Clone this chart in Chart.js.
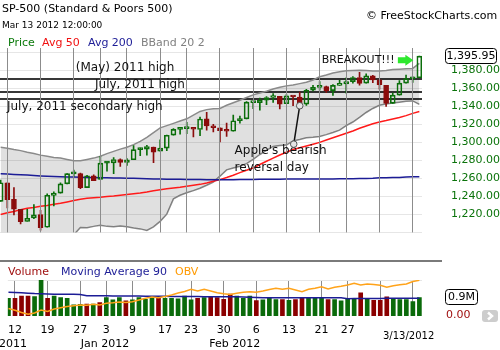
<!DOCTYPE html>
<html>
<head>
<meta charset="utf-8">
<title>SP-500 daily</title>
<script src="https://cdn.jsdelivr.net/npm/chart.js@4.4.1/dist/chart.umd.min.js"></script>
<style>
  html, body { margin: 0; padding: 0; background: #fff; }
  body { position: relative; width: 500px; height: 350px; overflow: hidden; font-family: 'DejaVu Sans', Verdana, sans-serif; }
  canvas { position: absolute; left: 0; }
  .txt { position: absolute; white-space: nowrap; font-size: 11px; line-height: 14px; color: #000; }
  .sep { position: absolute; left: 0; top: 260px; width: 442px; height: 2px; background: #7a7a7a; }
</style>
</head>
<body>
<canvas id="priceChart" width="500" height="262" style="top:0"></canvas>
<canvas id="volumeChart" width="500" height="95" style="top:255px"></canvas>
<div class="sep"></div>

<div class="txt" style="left:2px;top:2px">SP-500 (Standard &amp; Poors 500)</div>
<div class="txt" style="left:2px;top:18px;font-size:9px">Mar 13 2012 12:00:00</div>
<div class="txt" style="left:366px;top:9px">&copy; FreeStockCharts.com</div>
<div class="txt" style="left:8px;top:36px;color:#0a7a0a">Price</div>
<div class="txt" style="left:42px;top:36px;color:#f01010">Avg 50</div>
<div class="txt" style="left:88px;top:36px;color:#1c1c96">Avg 200</div>
<div class="txt" style="left:141px;top:36px;color:#808080">BBand 20 2</div>

<div class="txt" style="left:8px;top:265px;color:#a01010">Volume</div>
<div class="txt" style="left:61px;top:265px;color:#1c1c96">Moving Average 90</div>
<div class="txt" style="left:175px;top:265px;color:#ff9a00">OBV</div>
<div class="txt" style="left:383px;top:329px;font-size:10px">3/13/2012</div>

<script>
// Trading days shown on the chart (first one is partly cut off at the left edge)
const dates = [
  '2011-12-09', '2011-12-12', '2011-12-13', '2011-12-14', '2011-12-15', '2011-12-16', '2011-12-19', '2011-12-20',
  '2011-12-21', '2011-12-22', '2011-12-23', '2011-12-27', '2011-12-28', '2011-12-29', '2011-12-30',
  '2012-01-03', '2012-01-04', '2012-01-05', '2012-01-06', '2012-01-09', '2012-01-10', '2012-01-11', '2012-01-12',
  '2012-01-13', '2012-01-17', '2012-01-18', '2012-01-19', '2012-01-20', '2012-01-23', '2012-01-24', '2012-01-25',
  '2012-01-26', '2012-01-27', '2012-01-30', '2012-01-31',
  '2012-02-01', '2012-02-02', '2012-02-03', '2012-02-06', '2012-02-07', '2012-02-08', '2012-02-09', '2012-02-10',
  '2012-02-13', '2012-02-14', '2012-02-15', '2012-02-16', '2012-02-17', '2012-02-21', '2012-02-22', '2012-02-23',
  '2012-02-24', '2012-02-27', '2012-02-28', '2012-02-29',
  '2012-03-01', '2012-03-02', '2012-03-05', '2012-03-06', '2012-03-07', '2012-03-08', '2012-03-09', '2012-03-12',
  '2012-03-13'
];

const open = [
  1234.48, 1255.05, 1236.83, 1225.73, 1212.12, 1216.09, 1219.74, 1205.72, 1241.25, 1243.72, 1254.00, 1265.02, 1265.38, 1249.75, 1262.82,
  1258.86, 1277.03, 1277.30, 1280.93, 1277.83, 1280.77, 1292.02, 1292.48, 1294.82, 1290.22, 1293.65, 1308.07, 1314.49, 1315.29, 1315.96,
  1314.40, 1326.28, 1318.25, 1316.16, 1313.53,
  1312.45, 1324.24, 1326.21, 1344.32, 1344.33, 1347.04, 1349.97, 1351.21, 1343.06, 1351.30, 1350.52, 1342.61, 1358.06, 1361.22, 1362.11,
  1357.53, 1363.46, 1365.20, 1367.56, 1372.20,
  1365.90, 1374.09, 1369.59, 1363.63, 1343.39, 1352.65, 1365.97, 1370.78, 1371.92
];
const high = [
  1258.25, 1255.05, 1249.86, 1225.73, 1225.60, 1231.04, 1224.57, 1242.82, 1245.09, 1255.22, 1265.42, 1269.37, 1265.85, 1263.54, 1264.12,
  1284.62, 1278.73, 1283.05, 1281.84, 1281.99, 1296.46, 1293.80, 1296.82, 1294.82, 1303.00, 1308.11, 1315.49, 1315.38, 1322.28, 1315.96,
  1328.30, 1333.47, 1320.06, 1316.16, 1321.41,
  1330.52, 1329.19, 1345.34, 1344.36, 1349.24, 1351.00, 1354.32, 1351.21, 1353.35, 1351.30, 1355.87, 1359.02, 1363.40, 1367.76, 1362.70,
  1364.24, 1368.92, 1371.94, 1373.09, 1378.04,
  1376.17, 1374.53, 1369.59, 1363.63, 1354.85, 1368.72, 1374.76, 1373.04, 1396.13
];
const low = [
  1234.48, 1227.25, 1219.43, 1209.47, 1212.12, 1215.20, 1202.37, 1205.72, 1229.51, 1243.72, 1254.00, 1262.30, 1248.64, 1249.75, 1257.46,
  1258.86, 1268.10, 1265.26, 1273.34, 1274.55, 1280.77, 1285.41, 1285.77, 1277.58, 1290.22, 1290.99, 1308.07, 1309.17, 1309.89, 1306.06,
  1307.65, 1313.60, 1311.72, 1300.49, 1306.69,
  1312.45, 1321.57, 1326.21, 1337.52, 1335.92, 1341.95, 1344.63, 1337.35, 1343.06, 1340.83, 1340.80, 1341.22, 1357.24, 1358.11, 1355.53,
  1352.28, 1363.46, 1354.92, 1365.97, 1363.81,
  1365.90, 1366.42, 1359.13, 1340.03, 1343.39, 1352.65, 1365.91, 1366.69, 1371.92
];
const close = [
  1255.19, 1236.47, 1225.73, 1211.82, 1215.75, 1219.66, 1205.35, 1241.30, 1243.72, 1254.00, 1265.33, 1265.43, 1249.64, 1263.02, 1257.60,
  1277.06, 1277.30, 1281.06, 1277.81, 1280.70, 1292.08, 1292.48, 1295.50, 1289.09, 1293.67, 1308.04, 1314.50, 1315.38, 1316.00, 1314.65,
  1326.06, 1318.43, 1316.33, 1313.01, 1312.41,
  1324.09, 1325.54, 1344.90, 1344.33, 1347.05, 1349.96, 1351.95, 1342.64, 1351.77, 1350.50, 1343.23, 1358.04, 1361.23, 1362.21, 1357.66,
  1363.46, 1365.74, 1367.59, 1372.18, 1365.68,
  1374.09, 1369.63, 1364.33, 1343.36, 1352.63, 1365.91, 1370.87, 1371.09, 1395.95
];
const priorClose = 1234.35;

// Overlays on the price panel
const ma50 = [
  1219.8, 1221.8, 1223.3, 1225.3, 1226.8, 1227.8, 1229.1, 1230.0, 1231.3, 1232.4,
  1233.9, 1235.4, 1236.9, 1237.9, 1238.6, 1239.1, 1239.9, 1240.4, 1241.4, 1242.1,
  1242.9, 1243.7, 1244.9, 1246.4, 1247.4, 1248.4, 1249.4, 1250.1, 1251.4, 1252.4,
  1253.4, 1254.9, 1256.9, 1258.7, 1261.0, 1263.5, 1266.5, 1269.0, 1271.5, 1275.5,
  1279.1, 1282.6, 1286.1, 1289.1, 1292.1, 1294.1, 1296.1, 1298.1, 1300.1, 1302.7,
  1305.2, 1307.7, 1310.2, 1312.7, 1315.7, 1318.2, 1320.7, 1322.7, 1324.3, 1326.1,
  1327.8, 1329.8, 1332.3, 1334.5
];
const ma200 = [
  1265.1, 1264.9, 1264.5, 1264.2, 1263.7, 1263.2, 1262.8, 1262.5, 1262.2, 1261.9,
  1261.7, 1261.5, 1261.3, 1261.1, 1261.0, 1260.8, 1260.7, 1260.5, 1260.4, 1260.3,
  1260.1, 1259.9, 1259.7, 1259.5, 1259.4, 1259.2, 1259.1, 1259.0, 1258.9, 1258.8,
  1258.7, 1258.6, 1258.5, 1258.5, 1258.5, 1258.6, 1258.7, 1258.8, 1258.9, 1259.0,
  1259.0, 1259.1, 1259.2, 1259.3, 1259.5, 1259.5, 1259.4, 1259.3, 1259.3, 1259.4,
  1259.5, 1259.6, 1259.7, 1259.7, 1259.8, 1259.9, 1260.2, 1260.7, 1260.8, 1260.9,
  1261.0, 1261.5, 1261.8, 1261.9
];
const bbUpper = [
  1294.6, 1293.6, 1292.1, 1290.9, 1289.1, 1287.6, 1285.9, 1284.6, 1283.3, 1282.6,
  1281.1, 1279.6, 1279.6, 1281.1, 1282.6, 1284.6, 1287.6, 1290.1, 1292.6, 1294.6,
  1297.6, 1301.2, 1305.7, 1311.0, 1316.2, 1318.7, 1321.2, 1323.8, 1326.3, 1330.3,
  1334.5, 1336.5, 1337.5, 1337.8, 1341.3, 1344.1, 1346.9, 1349.9, 1352.9, 1354.9,
  1356.9, 1359.4, 1361.4, 1362.9, 1363.9, 1365.4, 1366.9, 1369.5, 1373.0, 1375.0,
  1377.3, 1378.5, 1379.7, 1380.0, 1380.3, 1380.0, 1379.5, 1379.5, 1380.0, 1381.0,
  1381.5, 1382.0, 1382.3, 1388.0
];
const bbLower = [
  1186.0, 1187.0, 1188.0, 1189.0, 1190.0, 1191.0, 1192.0, 1192.5, 1193.0, 1194.0,
  1195.0, 1197.3, 1205.5, 1205.2, 1206.7, 1207.9, 1206.7, 1206.2, 1207.2, 1206.2,
  1204.9, 1203.9, 1202.2, 1206.2, 1212.3, 1220.3, 1237.3, 1241.3, 1244.0, 1246.4,
  1249.1, 1252.4, 1255.9, 1262.5, 1269.5, 1271.5, 1273.5, 1276.5, 1281.1, 1286.6,
  1291.1, 1295.6, 1296.6, 1297.1, 1301.7, 1303.2, 1305.2, 1305.7, 1306.7, 1308.7,
  1311.0, 1313.7, 1318.7, 1322.7, 1327.8, 1333.3, 1337.8, 1341.3, 1342.8, 1343.8,
  1344.8, 1345.8, 1346.2, 1342.3
];

// Lower panel, volume in millions as the platform reports it
const volume = [
  0.86, 0.86, 0.97, 0.97, 0.94, 1.75, 0.86, 0.97, 0.89, 0.86,
  0.54, 0.57, 0.58, 0.58, 0.65, 0.89, 0.78, 0.89, 0.74, 0.78,
  0.89, 0.81, 0.86, 0.89, 0.86, 0.86, 0.83, 0.97, 0.78, 0.86,
  0.89, 0.91, 0.89, 0.81, 1.07, 0.97, 0.86, 0.97, 0.75, 0.78,
  0.86, 0.80, 0.80, 0.76, 0.80, 0.86, 0.86, 0.86, 0.90, 0.80,
  0.80, 0.74, 0.82, 0.86, 1.13, 0.86, 0.76, 0.76, 0.93, 0.84,
  0.80, 0.80, 0.70, 0.90
];
const volMa90 = [
  1.15, 1.14, 1.13, 1.11, 1.09, 1.08, 1.07, 1.06, 1.06, 1.06,
  1.06, 1.05, 0.99, 0.98, 0.98, 0.98, 0.97, 0.97, 0.97, 0.97,
  0.97, 0.96, 0.96, 0.96, 0.96, 0.95, 0.95, 0.95, 0.95, 0.95,
  0.94, 0.94, 0.94, 0.94, 0.94, 0.93, 0.92, 0.91, 0.90, 0.89,
  0.89, 0.89, 0.89, 0.89, 0.89, 0.89, 0.89, 0.89, 0.89, 0.89,
  0.89, 0.89, 0.84, 0.85, 0.85, 0.85, 0.85, 0.85, 0.86, 0.86,
  0.86, 0.86, 0.86, 0.86
];
const obv = [
  3.05, 2.16, 0.95, 0.00, 0.68, 2.26, 1.47, 2.79, 3.47, 4.10,
  4.53, 4.89, 4.74, 5.26, 4.89, 5.79, 6.05, 6.47, 6.26, 6.63,
  7.53, 8.42, 9.10, 8.68, 9.37, 10.16, 11.21, 12.00, 13.16, 12.26,
  13.16, 12.26, 11.37, 10.79, 10.42, 11.05, 11.58, 11.89, 11.58, 12.26,
  13.05, 13.68, 13.16, 13.68, 12.79, 11.89, 13.16, 13.68, 14.53, 13.32,
  14.21, 14.74, 15.42, 16.32, 15.42, 15.95, 15.68, 15.26, 14.21, 15.05,
  15.53, 15.95, 17.26, 17.89
];

// Horizontal levels and their captions
const levels = [1370.58, 1356.48, 1348.0];
const priceTicks = [1200, 1220, 1240, 1260, 1280, 1300, 1320, 1340, 1360, 1380, 1400];
const monthTicks = [[-1.2, 'Dec 2011'], [14.8, 'Jan 2012'], [34.7, 'Feb 2012']];
const notes = [
  { text: '(May) 2011 high', at: 11.3, value: 1383.0 },
  { text: 'July, 2011 high', at: 14.2, value: 1363.9 },
  { text: 'July, 2011 secondary high', at: 0.95, value: 1340.1 },
  { text: "Apple's bearish", at: 35.2, value: 1290.3 },
  { text: 'reversal day', at: 35.2, value: 1271.8 }
];
const appleDay = '2012-02-15';
const appleLabelAnchor = { at: 44.1, value: 1298.1 };
const breakout = { text: 'BREAKOUT!!!', at: 48.3, value: 1391.3, arrowTip: 62.1 };

const X_MIN = -0.1, X_MAX = 63.4;
const GREEN = '#0b6e0b', RED = '#8b0c0c';
const WEEK_LINE = '#8c8c8c';

Chart.defaults.font.family = "'DejaVu Sans', Verdana, sans-serif";
Chart.defaults.font.size = 11;

const n = dates.length;
const day = s => new Date(s + 'T00:00:00Z');
const pts = arr => arr.map((v, i) => ({ x: i, y: v }));
const money = v => v.toLocaleString('en-US', { minimumFractionDigits: 2, maximumFractionDigits: 2 });

// first trading day of every week gets a grid line
const weekStarts = dates.map((d, i) => i).filter(i => i > 0 && day(dates[i]).getUTCDay() < day(dates[i - 1]).getUTCDay());

const candleUp = close.map((c, i) => c >= open[i]);
const candleColor = candleUp.map(up => up ? GREEN : RED);
const volColor = close.map((c, i) => c >= (i ? close[i - 1] : priorClose) ? '#0a6a0a' : '#8b0000');

function roundRect(ctx, x, y, w, h, r) {
  ctx.beginPath();
  ctx.moveTo(x + r, y);
  ctx.arcTo(x + w, y, x + w, y + h, r);
  ctx.arcTo(x + w, y + h, x, y + h, r);
  ctx.arcTo(x, y + h, x, y, r);
  ctx.arcTo(x, y, x + w, y, r);
  ctx.closePath();
}

function weekGrid(scale) {
  scale.ticks = weekStarts.map(v => ({ value: v }));
}

// Levels under the candles; week lines, captions, callout and last-price box on top
const priceNotes = {
  id: 'priceNotes',
  beforeDatasetsDraw(chart) {
    const { ctx, chartArea: a, scales: { y } } = chart;
    ctx.save();
    ctx.strokeStyle = '#383838';
    ctx.lineWidth = 2;
    levels.forEach(v => {
      const py = Math.round(y.getPixelForValue(v));
      ctx.beginPath();
      ctx.moveTo(a.left, py);
      ctx.lineTo(a.right, py);
      ctx.stroke();
    });
    ctx.restore();
  },
  afterDraw(chart) {
    const { ctx, chartArea: a, scales: { x, y } } = chart;
    ctx.save();
    ctx.fillStyle = WEEK_LINE;
    for (const i of weekStarts) {
      ctx.fillRect(Math.floor(x.getPixelForValue(i)), a.top, 1, a.height);
    }

    ctx.fillStyle = '#111';
    ctx.textBaseline = 'middle';
    ctx.textAlign = 'left';
    ctx.font = "12px 'DejaVu Sans'";
    notes.forEach(nt => ctx.fillText(nt.text, x.getPixelForValue(nt.at), y.getPixelForValue(nt.value)));

    // callout from the Feb 15 low down to the caption
    const ai = dates.indexOf(appleDay);
    const p1 = { x: x.getPixelForValue(ai), y: y.getPixelForValue(low[ai]) };
    const p2 = { x: x.getPixelForValue(appleLabelAnchor.at), y: y.getPixelForValue(appleLabelAnchor.value) };
    ctx.strokeStyle = '#111';
    ctx.lineWidth = 1.5;
    ctx.beginPath();
    ctx.moveTo(p1.x, p1.y);
    ctx.lineTo(p2.x, p2.y);
    ctx.stroke();
    [p1, p2].forEach(p => {
      ctx.beginPath();
      ctx.arc(p.x, p.y, 3.3, 0, Math.PI * 2);
      ctx.fillStyle = '#e4e4e4';
      ctx.fill();
      ctx.strokeStyle = '#555';
      ctx.lineWidth = 1;
      ctx.stroke();
    });

    // breakout caption with arrow
    const by = y.getPixelForValue(breakout.value);
    ctx.fillStyle = '#111';
    ctx.font = "11px 'DejaVu Sans'";
    ctx.fillText(breakout.text, x.getPixelForValue(breakout.at), by);
    const tip = x.getPixelForValue(breakout.arrowTip);
    ctx.fillStyle = '#2ee82e';
    ctx.beginPath();
    ctx.moveTo(tip - 15.5, by - 3);
    ctx.lineTo(tip - 8, by - 3);
    ctx.lineTo(tip - 8, by - 5.5);
    ctx.lineTo(tip, by);
    ctx.lineTo(tip - 8, by + 5.5);
    ctx.lineTo(tip - 8, by + 3);
    ctx.lineTo(tip - 15.5, by + 3);
    ctx.closePath();
    ctx.fill();

    // boxed last close on the price axis
    const last = close[n - 1];
    const py = Math.round(y.getPixelForValue(last));
    roundRect(ctx, 445.5, py - 7.5, 51, 15, 3);
    ctx.fillStyle = '#fff';
    ctx.fill();
    ctx.strokeStyle = '#000';
    ctx.lineWidth = 1;
    ctx.stroke();
    ctx.fillStyle = '#000';
    ctx.textAlign = 'center';
    ctx.fillText(money(last), 471, py + 0.5);
    ctx.restore();
  }
};

new Chart(document.getElementById('priceChart'), {
  type: 'bar',
  data: {
    datasets: [
      {
        type: 'line', label: 'BBand upper', data: pts(bbUpper),
        borderColor: '#8a8a8a', borderWidth: 1.5, pointRadius: 0,
        fill: '+1', backgroundColor: 'rgba(0, 0, 0, 0.12)', order: 10
      },
      {
        type: 'line', label: 'BBand lower', data: pts(bbLower),
        borderColor: '#8a8a8a', borderWidth: 1.5, pointRadius: 0, fill: false, order: 10
      },
      {
        type: 'line', label: 'Avg 200', data: pts(ma200),
        borderColor: '#1c1c96', borderWidth: 1.5, pointRadius: 0, order: 6
      },
      {
        type: 'line', label: 'Avg 50', data: pts(ma50),
        borderColor: '#ff1a1a', borderWidth: 1.5, pointRadius: 0, order: 6
      },
      {
        label: 'Lower wick', data: dates.map((d, i) => ({ x: i, y: [low[i], Math.min(open[i], close[i])] })),
        backgroundColor: candleColor, barThickness: 1, grouped: false, order: 3
      },
      {
        label: 'Upper wick', data: dates.map((d, i) => ({ x: i, y: [Math.max(open[i], close[i]), high[i]] })),
        backgroundColor: candleColor, barThickness: 1, grouped: false, order: 3
      },
      {
        label: 'Price', data: dates.map((d, i) => ({ x: i, y: [open[i], close[i]] })),
        backgroundColor: candleUp.map(up => up ? 'rgba(0, 0, 0, 0)' : RED),
        borderColor: candleColor, borderWidth: 1, borderSkipped: false,
        barThickness: 5, minBarLength: 2, grouped: false, order: 1
      }
    ]
  },
  options: {
    responsive: false,
    animation: false,
    devicePixelRatio: 1,
    layout: { padding: { top: 48, right: 0, bottom: 10, left: 0 } },
    plugins: { legend: { display: false }, tooltip: { enabled: false } },
    scales: {
      x: {
        type: 'linear', min: X_MIN, max: X_MAX, offset: false,
        // dates are printed under the volume panel only; week lines come from priceNotes
        ticks: { display: false },
        grid: { display: false },
        border: { display: false }
      },
      y: {
        position: 'right', min: 1200, max: 1405,
        afterBuildTicks: s => { s.ticks = priceTicks.map(v => ({ value: v })); },
        afterFit: s => { s.width = 78; },
        ticks: {
          color: '#0b730b', padding: 23, crossAlign: 'far',
          callback: v => (v === priceTicks[0] || v === priceTicks[priceTicks.length - 1]) ? '' : money(v)
        },
        grid: { color: '#e6e6e6', drawTicks: false },
        border: { display: false }
      }
    }
  },
  plugins: [priceNotes]
});

// Month captions, current volume box and the scroll button
const volumeNotes = {
  id: 'volumeNotes',
  afterDraw(chart) {
    const { ctx, scales: { x, y } } = chart;
    ctx.save();
    ctx.fillStyle = '#000';
    ctx.font = "11px 'DejaVu Sans'";
    ctx.textAlign = 'center';
    ctx.textBaseline = 'middle';
    monthTicks.forEach(([at, label]) => ctx.fillText(label, x.getPixelForValue(at), 89.5));

    const vy = Math.round(y.getPixelForValue(volume[n - 1]));
    roundRect(ctx, 445.5, vy - 7.5, 32, 15, 3);
    ctx.fillStyle = '#fff';
    ctx.fill();
    ctx.strokeStyle = '#000';
    ctx.lineWidth = 1;
    ctx.stroke();
    ctx.fillStyle = '#000';
    ctx.fillText(volume[n - 1].toFixed(1) + 'M', 461.5, vy + 0.5);

    ctx.textAlign = 'left';
    ctx.fillStyle = '#a01010';
    ctx.fillText('0.00', 446, y.getPixelForValue(0) - 1);

    roundRect(ctx, 482, 55, 16, 12, 3);
    ctx.fillStyle = '#cdcdcd';
    ctx.fill();
    ctx.strokeStyle = '#fff';
    ctx.lineWidth = 2.5;
    ctx.beginPath();
    ctx.moveTo(488, 57.5);
    ctx.lineTo(492, 61);
    ctx.lineTo(488, 64.5);
    ctx.stroke();
    ctx.restore();
  }
};

new Chart(document.getElementById('volumeChart'), {
  type: 'bar',
  data: {
    datasets: [
      {
        label: 'Volume', data: pts(volume), backgroundColor: volColor,
        barThickness: 4, grouped: false, order: 3, yAxisID: 'y'
      },
      {
        type: 'line', label: 'Moving Average 90', data: pts(volMa90),
        borderColor: '#1c1c96', borderWidth: 1.5, pointRadius: 0, order: 2, yAxisID: 'y'
      },
      {
        type: 'line', label: 'OBV', data: pts(obv),
        borderColor: '#ffa31a', borderWidth: 1.5, pointRadius: 0, order: 1, yAxisID: 'obv'
      }
    ]
  },
  options: {
    responsive: false,
    animation: false,
    devicePixelRatio: 1,
    layout: { padding: { top: 25, right: 0, bottom: 0, left: 0 } },
    plugins: { legend: { display: false }, tooltip: { enabled: false } },
    scales: {
      x: {
        type: 'linear', min: X_MIN, max: X_MAX, offset: false,
        afterBuildTicks: weekGrid,
        afterFit: s => { s.height = 34; },
        ticks: {
          color: '#000', padding: 8, maxRotation: 0, autoSkip: false,
          // the cursor date covers March, so those days stay unlabelled
          callback: v => {
            const dt = day(dates[v]);
            return dt.getUTCMonth() === 2 ? '' : String(dt.getUTCDate());
          }
        },
        grid: { color: WEEK_LINE, drawTicks: false, offset: false },
        border: { display: false }
      },
      y: {
        position: 'right', min: 0, max: 1.75,
        afterBuildTicks: s => { s.ticks = [{ value: 1.75 }]; },
        afterFit: s => { s.width = 78; },
        ticks: { display: false },
        grid: { color: '#e6e6e6', drawTicks: false },
        border: { display: false }
      },
      obv: { display: false, min: -0.9, max: 18.05 }
    }
  },
  plugins: [volumeNotes]
});
</script>
</body>
</html>
